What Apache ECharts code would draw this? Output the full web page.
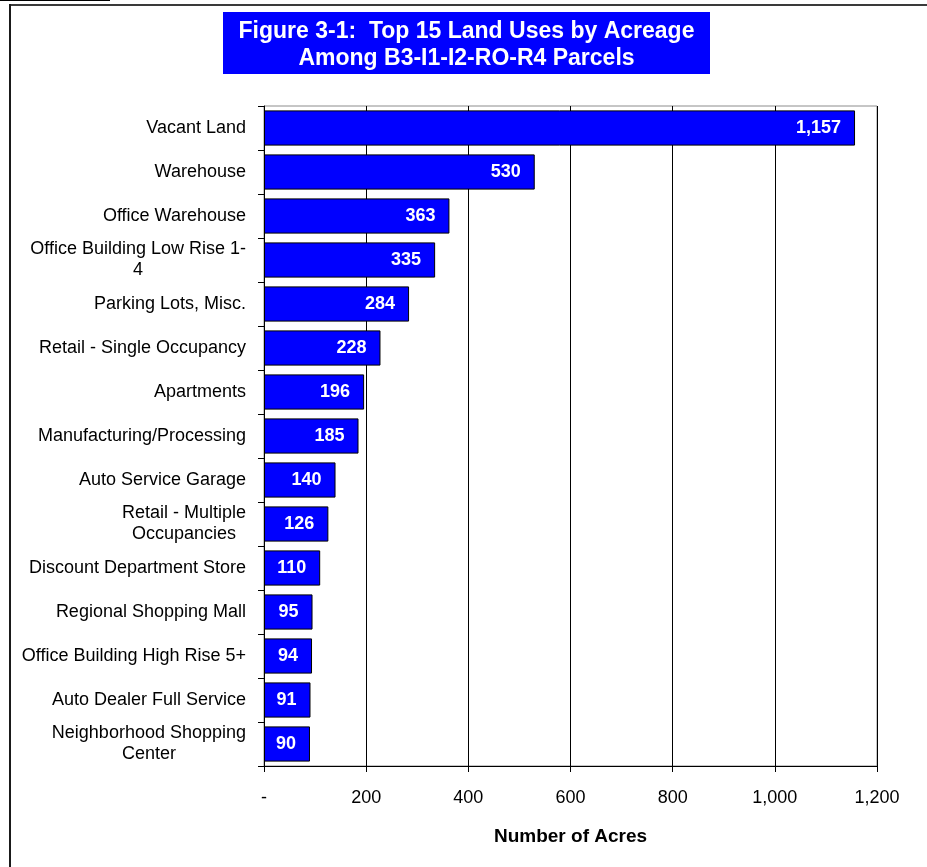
<!DOCTYPE html>
<html>
<head>
<meta charset="utf-8">
<script src="https://cdn.jsdelivr.net/npm/echarts@6/dist/echarts.min.js"></script>
<style>
  html, body { margin: 0; padding: 0; background: #fff; }
  #chart { width: 927px; height: 867px; }
</style>
</head>
<body>
<div id="chart"></div>
<script>
// Land use categories, largest first
const landUses = [
  'Vacant Land',
  'Warehouse',
  'Office Warehouse',
  'Office Building Low Rise 1-\n4',
  'Parking Lots, Misc.',
  'Retail - Single Occupancy',
  'Apartments',
  'Manufacturing/Processing',
  'Auto Service Garage',
  'Retail - Multiple\nOccupancies',
  'Discount Department Store',
  'Regional Shopping Mall',
  'Office Building High Rise 5+',
  'Auto Dealer Full Service',
  'Neighborhood Shopping\nCenter'
];

// Acreage per land use
const acres = [1157, 530, 363, 335, 284, 228, 196, 185, 140, 126, 110, 95, 94, 91, 90];

// Value axis ticks
const axisTicks = [0, 200, 400, 600, 800, 1000, 1200];

const titleLines = [
  'Figure 3-1:  Top 15 Land Uses by Acreage',
  'Among B3-I1-I2-RO-R4 Parcels'
];
const axisTitle = 'Number of Acres';

const FONT = "'Liberation Sans', Arial, sans-serif";
const fmt = v => v === 0 ? '-' : v.toLocaleString('en-US');

const chart = echarts.init(document.getElementById('chart'), null, { renderer: 'canvas' });

chart.setOption({
  backgroundColor: '#ffffff',
  animation: false,
  grid: {
    left: 264, right: 50, top: 106, bottom: 101,
    show: true, borderColor: '#8c8c8c', borderWidth: 1, backgroundColor: 'transparent'
  },
  graphic: [
    // page frame
    { type: 'line', shape: { x1: 0, y1: 0.5, x2: 110, y2: 0.5 }, style: { stroke: '#000', lineWidth: 1 } },
    { type: 'line', shape: { x1: 9, y1: 5, x2: 927, y2: 5 }, style: { stroke: '#3a3a3a', lineWidth: 2 } },
    { type: 'line', shape: { x1: 10, y1: 4, x2: 10, y2: 867 }, style: { stroke: '#1a1a1a', lineWidth: 2 } },
    // title block
    { type: 'rect', shape: { x: 223, y: 12, width: 487, height: 62 }, style: { fill: '#0000ff' } },
    {
      type: 'text', x: 466.5, y: 45,
      style: {
        text: titleLines.join('\n'), fill: '#ffffff', font: 'bold 23px ' + FONT,
        align: 'center', verticalAlign: 'middle', lineHeight: 27
      }
    }
  ],
  xAxis: {
    type: 'value',
    min: 0, max: 1200, interval: 200,
    axisLine: { show: true, lineStyle: { color: '#000', width: 1 } },
    axisTick: { show: true, inside: false, length: 6, lineStyle: { color: '#000' } },
    splitLine: { show: true, lineStyle: { color: '#000', width: 1 } },
    axisLabel: {
      margin: 23, fontSize: 18, fontFamily: FONT, color: '#000',
      formatter: v => axisTicks.includes(v) ? fmt(v) : ''
    },
    name: axisTitle,
    nameLocation: 'middle',
    nameGap: 61,
    nameTextStyle: { fontSize: 19, fontWeight: 'bold', fontFamily: FONT, color: '#000' }
  },
  yAxis: {
    type: 'category',
    inverse: true,
    data: landUses,
    axisLine: { show: true, lineStyle: { color: '#000', width: 1 } },
    axisTick: { show: true, length: 6, alignWithLabel: false, lineStyle: { color: '#000' } },
    splitLine: { show: false },
    axisLabel: {
      margin: 18, color: '#000', interval: 0,
      formatter: v => v.split('\n').map(s => '{c|' + s + '}').join('\n'),
      rich: { c: { align: 'center', fontSize: 18, fontFamily: FONT, color: '#000', lineHeight: 21 } }
    }
  },
  series: [{
    type: 'bar',
    data: acres,
    barCategoryGap: '20%',
    itemStyle: { color: '#0000ff', borderColor: '#000', borderWidth: 1 },
    label: {
      show: true, position: 'insideRight', distance: 14,
      color: '#fff', fontWeight: 'bold', fontSize: 18, fontFamily: FONT,
      formatter: p => fmt(p.value)
    }
  }]
});
</script>
</body>
</html>
